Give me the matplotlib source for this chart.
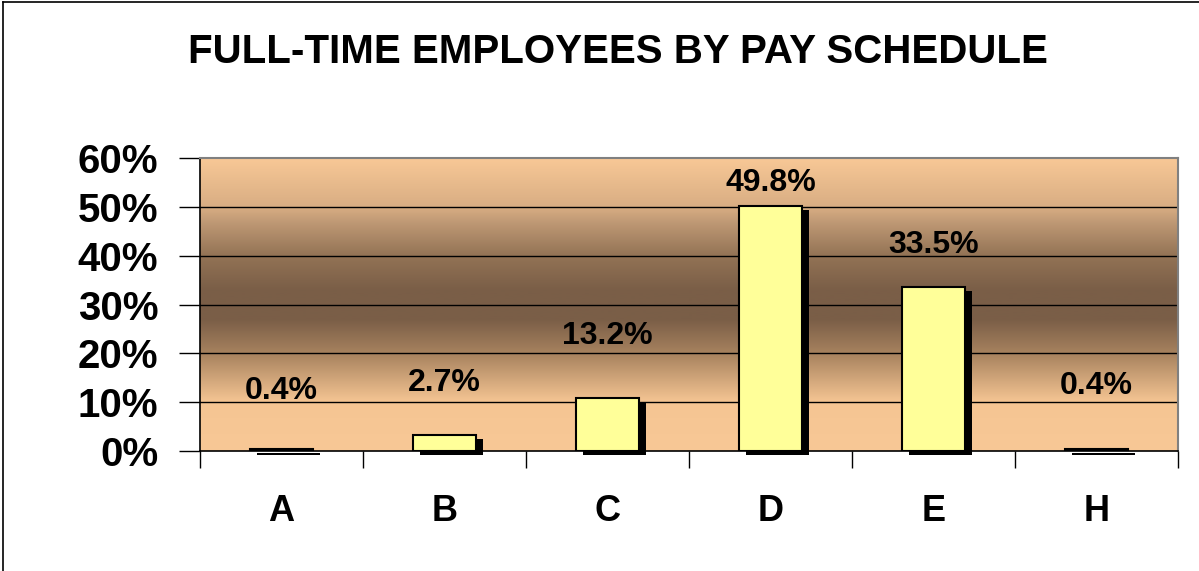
import matplotlib
matplotlib.use("Agg")
import matplotlib.pyplot as plt
import matplotlib.transforms as mtransforms
from matplotlib.colors import LinearSegmentedColormap
from matplotlib.lines import Line2D
import numpy as np

# data
categories = ["A", "B", "C", "D", "E", "H"]
bar_values = [0.4, 3.2, 10.9, 50.2, 33.6, 0.4]
value_labels = ["0.4%", "2.7%", "13.2%", "49.8%", "33.5%", "0.4%"]
label_y = [10.7, 12.3, 21.9, 53.2, 40.5, 11.7]
y_ticks = [0, 10, 20, 30, 40, 50, 60]

plt.rcParams["font.family"] = ["Liberation Sans", "DejaVu Sans"]

fig = plt.figure(figsize=(11.99, 5.71), dpi=100)
ax = fig.add_axes([200 / 1199, 120 / 571, 978 / 1199, 293 / 571])

x = np.arange(len(categories))
ax.set_xlim(-0.5, len(categories) - 0.5)
ax.set_ylim(0, 60)

# gradient background: peach -> brown -> peach
cmap = LinearSegmentedColormap.from_list(
    "bg", [(0.0, "#f8c896"), (0.167, "#f5c593"), (0.33, "#a8835f"), (0.45, "#7a5e47"),
           (0.55, "#7a5e47"), (0.667, "#937355"), (0.78, "#be9874"), (0.833, "#d8ad83"),
           (1.0, "#f8c896")])
grad = np.linspace(0, 1, 256).reshape(-1, 1)
ax.imshow(grad, aspect="auto", cmap=cmap, extent=[-0.5, len(categories) - 0.5, 0, 60],
          origin="lower", zorder=0)

for yv in y_ticks[1:-1]:
    ax.axhline(yv, color="black", lw=1.0, zorder=1)

width = 0.39
shadow_tr = ax.transData + mtransforms.ScaledTranslation(0.07, -0.04, fig.dpi_scale_trans)
ax.bar(x, bar_values, width=width, color="black", transform=shadow_tr, zorder=2, clip_on=False)
ax.bar(x, bar_values, width=width, color="#ffff99", edgecolor="black", linewidth=1.5, zorder=3)

for xi, txt, ly in zip(x, value_labels, label_y):
    ax.text(xi, ly, txt, ha="center", va="baseline", fontsize=23, fontweight="bold", zorder=4)

ax.set_yticks(y_ticks)
ax.set_yticklabels([f"{v}%" for v in y_ticks], fontsize=29, fontweight="bold")
ax.set_xticks(np.arange(len(categories) + 1) - 0.5)
ax.set_xticklabels([])
ax.tick_params(axis="y", direction="out", length=15, width=1, pad=15)
ax.tick_params(axis="x", direction="out", length=12, width=1)
for xi, c in zip(x, categories):
    ax.text(xi, -12.3, c, ha="center", va="center", fontsize=26, fontweight="bold",
            clip_on=False)

for s in ["top", "right"]:
    ax.spines[s].set_color("#808080")
    ax.spines[s].set_linewidth(1.5)
for s in ["left", "bottom"]:
    ax.spines[s].set_color("black")
    ax.spines[s].set_linewidth(1.2)

fig.text(618 / 1199, 1 - 52 / 571, "FULL-TIME EMPLOYEES BY PAY SCHEDULE", ha="center", va="center",
         fontsize=29, fontweight="bold")

# chart frame (left and top edges visible)
fig.add_artist(Line2D([3 / 1199, 3 / 1199], [0, 1 - 2 / 571], color="black", lw=1.2))
fig.add_artist(Line2D([3 / 1199, 1], [1 - 2 / 571, 1 - 2 / 571], color="black", lw=1.2))

fig.savefig("out.png", dpi=100)
